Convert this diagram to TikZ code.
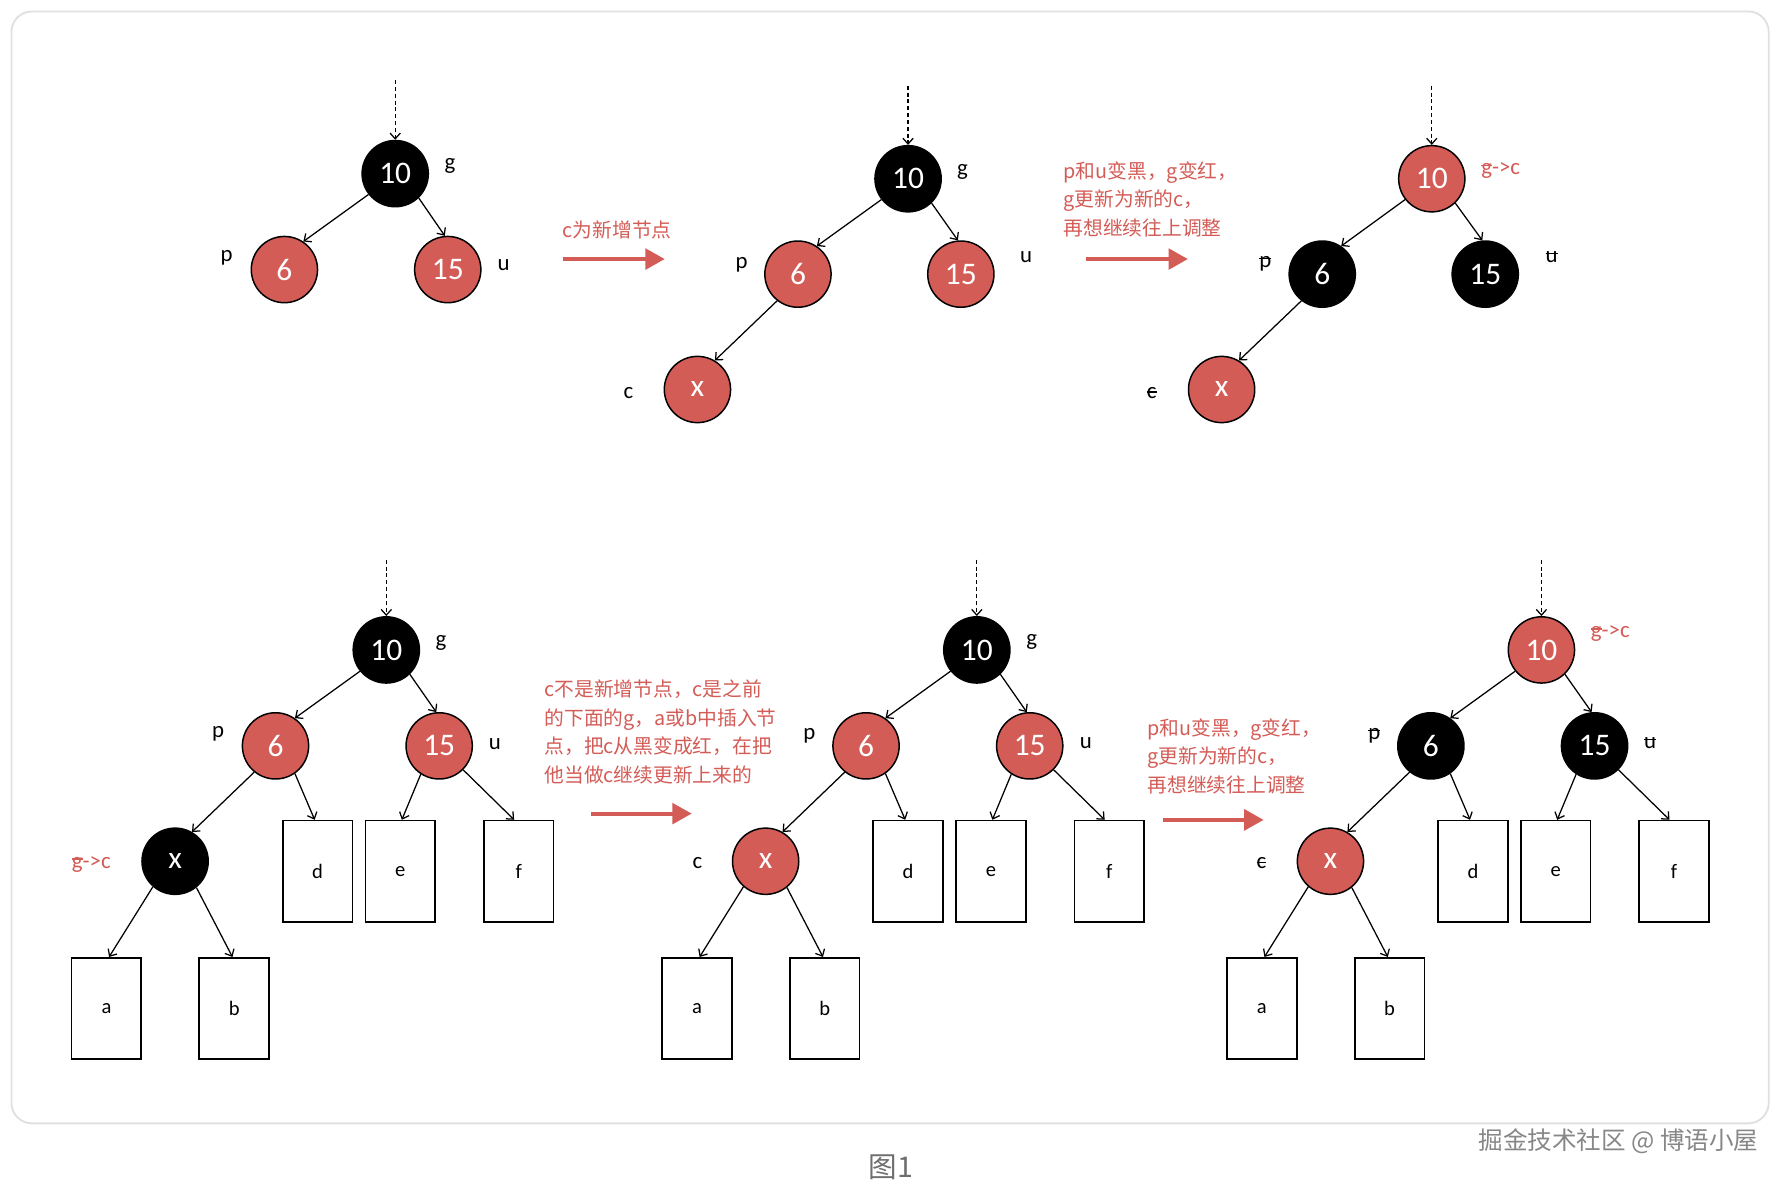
\documentclass[tikz,border=0pt]{standalone}
\usepackage{fontspec}
\setmainfont{Carlito}
\newfontfamily\cjk{Noto Sans CJK SC}
\usetikzlibrary{arrows.meta}
\definecolor{rbred}{RGB}{212,92,87}
\definecolor{framegray}{RGB}{224,224,224}
\definecolor{capgray}{RGB}{110,110,110}
\definecolor{markgray}{RGB}{135,135,135}
\newsavebox\strkbox
\newcommand\strk[2][0.36em]{\sbox\strkbox{#2}\rlap{\rule[#1]{\wd\strkbox}{0.07em}}\usebox\strkbox}
\begin{document}
\begin{tikzpicture}[x=1pt,y=-1pt,
  rn/.style={circle, draw=black, line width=1.3pt, fill=rbred, minimum size=58pt, inner sep=0pt, text=white, font=\fontsize{27.5}{27.5}\selectfont},
  bn/.style={rn, fill=black},
  leaf/.style={rectangle, draw=black, line width=1.5pt, minimum width=61pt, minimum height=88.5pt, inner sep=0pt, font=\fontsize{18}{18}\selectfont},
  lbl/.style={inner sep=0pt, font=\fontsize{20}{20}\selectfont},
  rlbl/.style={lbl, text=rbred},
  link/.style={line width=1.1pt, -{Straight Barb[length=5pt,width=9pt]}},
  dasharrow/.style={link, dash pattern=on 3.5pt off 2.5pt},
  bigarrow/.style={draw=rbred, line width=3.5pt, -{Triangle[length=17pt,width=18pt]}},
  rnote/.style={inner sep=0pt, text=rbred, align=left, font=\cjk\fontsize{17.3}{25}\selectfont}
]
\fill[white] (0,0) rectangle (1568,1038);
\useasboundingbox (0,0) rectangle (1568,1038);
\draw[framegray, line width=1.6pt, rounded corners=18pt] (10,10) rectangle (1548.5,983.5);

% ---------- top panel 1 ----------
\node[bn] (t1g) at (346,152) {10};
\node[rn] (t1p) at (249,236) {6};
\node[rn] (t1u) at (392,236) {15};
\coordinate (t1top) at (346,70);
\draw[dasharrow] (t1top) -- (t1g);
\draw[link] (t1g.218) -- (t1p.56);
\draw[link] (t1g.314) -- (t1u.95);
\node[lbl] (t1lg) at (394,145) {g};
\node[lbl] (t1lp) at (198.5,226) {p};
\node[lbl] (t1lu) at (441,232.5) {u};

\node[rnote, anchor=west] (n1) at (492.5,201) {c为新增节点};
\coordinate (a1s) at (492.5,226.8);
\coordinate (a1e) at (582,226.8);
\draw[bigarrow] (a1s) -- (a1e);

% ---------- top panel 2 ----------
\node[bn] (t2g) at (795,156.5) {10};
\node[rn] (t2p) at (698.6,240) {6};
\node[rn] (t2u) at (841.2,240) {15};
\node[rn] (t2c) at (610.6,341) {x};
\coordinate (t2top) at (795,75);
\draw[dasharrow] (t2top) -- (t2g);
\draw[link] (t2g.218) -- (t2p.56);
\draw[link] (t2g.314) -- (t2u.95);
\draw[link] (t2p.232) -- (t2c.59);
\node[lbl] (t2lg) at (842.7,150.3) {g};
\node[lbl] (t2lp) at (649.3,232) {p};
\node[lbl] (t2lu) at (898.4,225.3) {u};
\node[lbl] (t2lc) at (550.3,343.8) {c};

\node[rnote, anchor=base west] (n2) at (931,206) {p和u变黑，g变红，\\g更新为新的c，\\再想继续往上调整};
\coordinate (a2s) at (951,226.8);
\coordinate (a2e) at (1040,226.8);
\draw[bigarrow] (a2s) -- (a2e);

% ---------- top panel 3 ----------
\node[rn] (t3g) at (1253.5,156.5) {10};
\node[bn] (t3p) at (1157.6,240) {6};
\node[bn] (t3u) at (1300.3,240) {15};
\node[rn] (t3c) at (1069.5,341) {x};
\coordinate (t3top) at (1253.5,75);
\draw[dasharrow] (t3top) -- (t3g);
\draw[link] (t3g.218) -- (t3p.56);
\draw[link] (t3g.314) -- (t3u.95);
\draw[link] (t3p.232) -- (t3c.59);
\node[rlbl] (t3lg) at (1313.8,149.4) {\strk{g}->c};
\node[lbl] (t3lp) at (1107.8,231) {\strk{p}};
\node[lbl] (t3lu) at (1358.5,225.3) {\strk{u}};
\node[lbl] (t3lc) at (1008.3,343.8) {\strk[0.24em]{c}};

% ---------- bottom panel 1 ----------
\node[bn] (b1g) at (338.2,569) {10};
\node[rn] (b1p) at (241.2,653) {6};
\node[rn] (b1u) at (384.5,653) {15};
\node[bn] (b1c) at (153.3,754) {x};
\node[leaf] (b1d) at (278,762.7) {d};
\node[leaf] (b1e) at (350.5,762.7) {e};
\node[leaf] (b1f) at (454.1,762.7) {f};
\node[leaf] (b1a) at (93.2,882.8) {a};
\node[leaf] (b1b) at (205,882.8) {b};
\coordinate (b1top) at (338.2,490);
\draw[dasharrow] (b1top) -- (b1g);
\draw[link] (b1g.219) -- (b1p.55);
\draw[link] (b1g.314) -- (b1u.95);
\draw[link] (b1p.231) -- (b1c.60);
\draw[link] (b1p.305) -- ([xshift=-2.5pt]b1d.north);
\draw[link] (b1u.237) -- ([xshift=1.3pt]b1e.north);
\draw[link] (b1u.315) -- ([xshift=-4pt]b1f.north);
\draw[link] (b1c.229) -- ([xshift=2.3pt]b1a.north);
\draw[link] (b1c.309) -- ([xshift=-1.5pt]b1b.north);
\node[lbl] (b1lg) at (386,563) {g};
\node[lbl] (b1lp) at (191,642.7) {p};
\node[lbl] (b1lu) at (433.2,651.5) {u};
\node[rlbl] (b1lc) at (80,756.4) {\strk{g}->c};

\node[rnote, anchor=base west] (n3) at (476.5,685) {c不是新增节点，c是之前\\的下面的g，a或b中插入节\\点，把c从黑变成红，在把\\他当做c继续更新上来的};
\coordinate (a3s) at (517.7,712.3);
\coordinate (a3e) at (605.6,712.3);
\draw[bigarrow] (a3s) -- (a3e);

% ---------- bottom panel 2 ----------
\node[bn] (b2g) at (855.2,569) {10};
\node[rn] (b2p) at (758.2,653) {6};
\node[rn] (b2u) at (901.5,653) {15};
\node[rn] (b2c) at (670.3,754) {x};
\node[leaf] (b2d) at (795,762.7) {d};
\node[leaf] (b2e) at (867.5,762.7) {e};
\node[leaf] (b2f) at (971.1,762.7) {f};
\node[leaf] (b2a) at (610.2,882.8) {a};
\node[leaf] (b2b) at (722,882.8) {b};
\coordinate (b2top) at (855.2,490);
\draw[dasharrow] (b2top) -- (b2g);
\draw[link] (b2g.219) -- (b2p.55);
\draw[link] (b2g.314) -- (b2u.95);
\draw[link] (b2p.231) -- (b2c.60);
\draw[link] (b2p.305) -- ([xshift=-2.5pt]b2d.north);
\draw[link] (b2u.237) -- ([xshift=1.3pt]b2e.north);
\draw[link] (b2u.315) -- ([xshift=-4pt]b2f.north);
\draw[link] (b2c.229) -- ([xshift=2.3pt]b2a.north);
\draw[link] (b2c.309) -- ([xshift=-1.5pt]b2b.north);
\node[lbl] (b2lg) at (903.3,562.4) {g};
\node[lbl] (b2lp) at (708.6,644) {p};
\node[lbl] (b2lu) at (950.6,650.5) {u};
\node[lbl] (b2lc) at (610.6,755.4) {c};

\node[rnote, anchor=base west] (n4) at (1004.4,693.5) {p和u变黑，g变红，\\g更新为新的c，\\再想继续往上调整};
\coordinate (a4s) at (1017.8,717.8);
\coordinate (a4e) at (1106.3,717.8);
\draw[bigarrow] (a4s) -- (a4e);

% ---------- bottom panel 3 ----------
\node[rn] (b3g) at (1349.5,569) {10};
\node[bn] (b3p) at (1252.7,653) {6};
\node[bn] (b3u) at (1396,653) {15};
\node[rn] (b3c) at (1164.8,754) {x};
\node[leaf] (b3d) at (1289.5,762.7) {d};
\node[leaf] (b3e) at (1362,762.7) {e};
\node[leaf] (b3f) at (1465.6,762.7) {f};
\node[leaf] (b3a) at (1104.7,882.8) {a};
\node[leaf] (b3b) at (1216.5,882.8) {b};
\coordinate (b3top) at (1349.5,490);
\draw[dasharrow] (b3top) -- (b3g);
\draw[link] (b3g.219) -- (b3p.55);
\draw[link] (b3g.314) -- (b3u.95);
\draw[link] (b3p.231) -- (b3c.60);
\draw[link] (b3p.305) -- ([xshift=-2.5pt]b3d.north);
\draw[link] (b3u.237) -- ([xshift=1.3pt]b3e.north);
\draw[link] (b3u.315) -- ([xshift=-4pt]b3f.north);
\draw[link] (b3c.229) -- ([xshift=2.3pt]b3a.north);
\draw[link] (b3c.309) -- ([xshift=-1.5pt]b3b.north);
\node[rlbl] (b3lg) at (1409.8,555) {\strk{g}->c};
\node[lbl] (b3lp) at (1203.3,644.2) {\strk{p}};
\node[lbl] (b3lu) at (1444.6,650.5) {\strk{u}};
\node[lbl] (b3lc) at (1104.3,755.8) {\strk[0.24em]{c}};

% ---------- caption & watermark ----------
\node[inner sep=0pt, text=capgray, font=\cjk\fontsize{25}{25}\selectfont] (cap) at (780,1022) {图1};
\node[inner sep=0pt, text=markgray, font=\cjk\fontsize{21.5}{21.5}\selectfont] (mark) at (1417,999) {掘金技术社区 @ 博语小屋};
\end{tikzpicture}
\end{document}
